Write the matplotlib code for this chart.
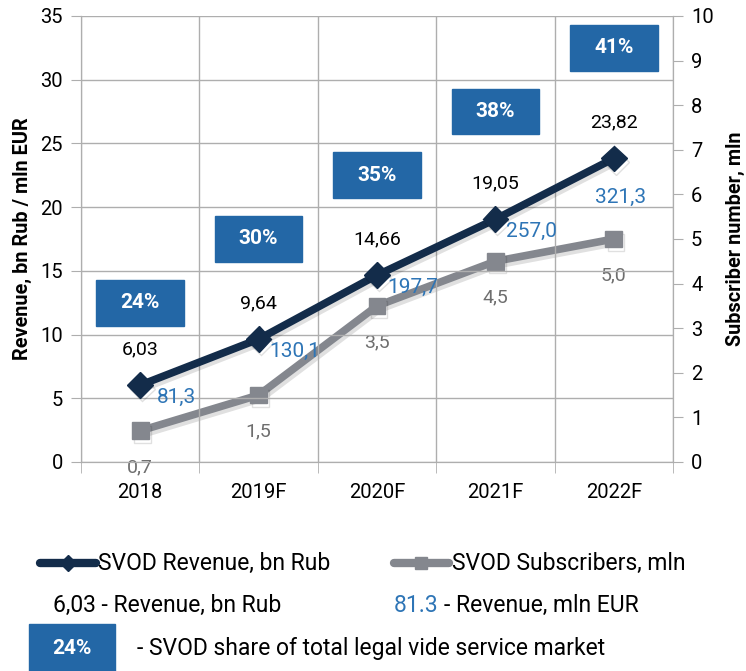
import matplotlib
matplotlib.use("Agg")
import matplotlib.pyplot as plt
import matplotlib.patheffects as pe
from matplotlib.patches import Rectangle
from matplotlib.lines import Line2D

plt.rcParams['font.family'] = ['Roboto', 'DejaVu Sans']

# ------------------------
# Data
# ------------------------
years = ["2018", "2019F", "2020F", "2021F", "2022F"]
revenue_rub = [6.03, 9.64, 14.66, 19.05, 23.82]
revenue_eur = [81.3, 130.1, 197.7, 257.0, 321.3]
subscribers = [0.7, 1.5, 3.5, 4.5, 5.0]
svod_share = ["24%", "30%", "35%", "38%", "41%"]

navy = "#132C4A"
grey = "#84878E"
blue_txt = "#2E75B6"
box_blue = "#2367A6"
grid_c = "#AEAEAE"

def fmt(v, d):
    return f"{v:.{d}f}".replace(".", ",")

W, H = 746, 671

def fx(px):
    return px / W

def fy(py):
    return 1 - py / H

# ------------------------
# Figure
# ------------------------
fig = plt.figure(figsize=(7.46, 6.71), dpi=100)
ax = fig.add_axes([0.1086, 0.3115, 0.7935, 0.6647])
ax2 = ax.twinx()

x = list(range(len(years)))
shadow = [pe.SimpleLineShadow(offset=(1.5, -2.5), alpha=0.12), pe.Normal()]

ax.plot(x, revenue_rub, color=navy, lw=5.5, marker="D", markersize=13,
        zorder=5, path_effects=shadow)
ax2.plot(x, subscribers, color=grey, lw=5.5, marker="s", markersize=12,
         zorder=4, path_effects=shadow)

ax.set_xlim(-0.5, 4.5)
ax.set_ylim(0, 35)
ax2.set_ylim(0, 10)
ax.set_yticks(range(0, 36, 5))
ax2.set_yticks(range(0, 11))
ax.set_xticks(x)
ax.set_xticklabels(years)
ax.set_xticks([i - 0.5 for i in range(len(years) + 1)], minor=True)

ax.grid(True, axis="y", color=grid_c, lw=1)
ax.grid(True, axis="x", which="minor", color=grid_c, lw=1)
ax.tick_params(axis="x", which="major", length=0, labelsize=14.5, pad=15)
ax.tick_params(axis="x", which="minor", length=8, color=grid_c)
ax.tick_params(axis="y", length=7, color=grid_c, labelsize=14.5, pad=6)
ax2.tick_params(axis="y", length=7, color=grid_c, labelsize=14.5, pad=6)

for a in (ax, ax2):
    a.spines["top"].set_visible(False)
    for s in ("left", "right", "bottom"):
        a.spines[s].set_color(grid_c)
ax.set_zorder(ax2.get_zorder() + 1)
ax.patch.set_visible(False)

ax.set_ylabel("Revenue, bn Rub / mln EUR", fontsize=14.3, fontweight="bold", labelpad=6)
ax2.set_ylabel("Subscriber number, mln", fontsize=14.3, fontweight="bold", labelpad=9)

# data labels
for i in x:
    ax.annotate(fmt(revenue_rub[i], 2), (i, revenue_rub[i]), xytext=(0, 26),
                textcoords="offset points", ha="center", va="center",
                fontsize=14, color="black")
    ax2.annotate(fmt(subscribers[i], 1), (i, subscribers[i]), xytext=(0, -26),
                 textcoords="offset points", ha="center", va="center",
                 fontsize=14, color="#6E6E6E")
    off = (5, -28) if i == 4 else (26, -9)
    ax.annotate(fmt(revenue_eur[i], 1), (i, revenue_rub[i]), xytext=off,
                textcoords="offset points", ha="center", va="center",
                fontsize=15, color=blue_txt, zorder=6)
    # share boxes
    yc = 12.5 + 5 * i
    ax.add_patch(Rectangle((i - 0.37, yc - 1.8), 0.74, 3.6, color=box_blue, zorder=3))
    ax.text(i, yc, svod_share[i], ha="center", va="center", color="white",
            fontsize=15, fontweight="bold", zorder=4)

# ------------------------
# Legend area (drawn by hand)
# ------------------------
y1, y2, y3 = fy(563), fy(605), fy(648)
fig.add_artist(Line2D([fx(40), fx(96)], [y1, y1], color=navy, lw=6,
                      solid_capstyle="round"))
fig.add_artist(Line2D([fx(68)], [y1], color=navy, marker="D", markersize=8))
fig.text(fx(98), y1, "SVOD Revenue, bn Rub", fontsize=16.5, va="center")

fig.add_artist(Line2D([fx(394), fx(449)], [y1, y1], color=grey, lw=6,
                      solid_capstyle="round"))
fig.add_artist(Line2D([fx(421)], [y1], color=grey, marker="s", markersize=8))
fig.text(fx(452), y1, "SVOD Subscribers, mln", fontsize=16.5, va="center")

fig.text(fx(53), y2, "6,03 - Revenue, bn Rub", fontsize=16.5, va="center")
fig.text(fx(394), y2, "81.3", fontsize=16.5, va="center", color=blue_txt)
fig.text(fx(444), y2, "- Revenue, mln EUR", fontsize=16.5, va="center")

fig.add_artist(Rectangle((fx(29), fy(671)), fx(86), 47 / H, transform=fig.transFigure,
                         color=box_blue))
fig.text(fx(72), y3, "24%", fontsize=15, fontweight="bold", color="white",
         ha="center", va="center")
fig.text(fx(137), y3, "- SVOD share of total legal vide service market",
         fontsize=16.5, va="center")

fig.savefig("out.png", dpi=100)
